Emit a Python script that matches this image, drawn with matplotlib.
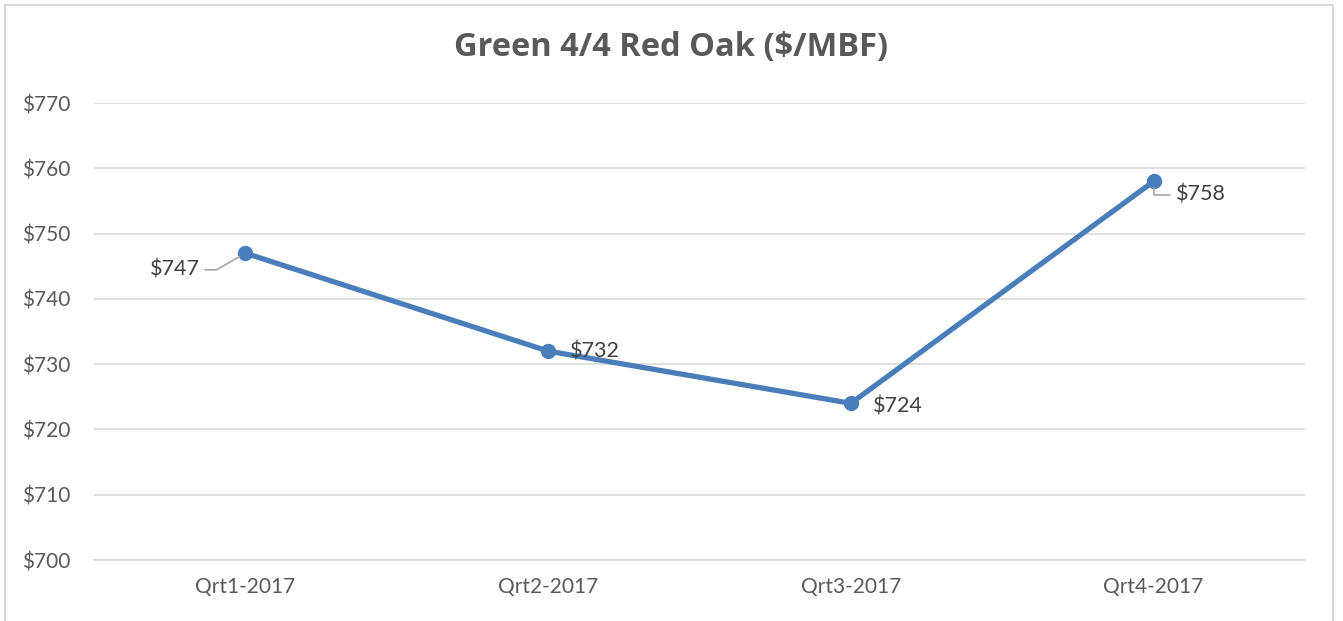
import matplotlib.pyplot as plt
from matplotlib.patches import Rectangle

# Chart data
quarters = ['Qrt1-2017', 'Qrt2-2017', 'Qrt3-2017', 'Qrt4-2017']
prices = [747, 732, 724, 758]
y_ticks = [700, 710, 720, 730, 740, 750, 760, 770]

plt.rcParams['font.family'] = ['Lato', 'DejaVu Sans']

fig = plt.figure(figsize=(13.43, 6.21), dpi=100)
ax = fig.add_axes([0.070, 0.0982, 0.9017, 0.7359])

# outer chart border
fig.patches.append(Rectangle((5 / 1343, -0.05), 1328 / 1343, 1.05 - 5 / 621,
                             transform=fig.transFigure, fill=False,
                             edgecolor='#d9d9d9', linewidth=1.5))

x = list(range(len(quarters)))
ax.plot(x, prices, color='#4a7ebb', linewidth=3.8, marker='o', markersize=10,
        zorder=3)

ax.set_xlim(-0.5, len(quarters) - 0.5)
ax.set_ylim(700, 770)
ax.set_yticks(y_ticks)
ax.set_yticklabels(['$%d' % v for v in y_ticks])
ax.set_xticks(x)
ax.set_xticklabels(quarters)
ax.grid(axis='y', color='#d9d9d9', linewidth=1.2)
ax.set_axisbelow(True)
for s in ['top', 'right', 'left']:
    ax.spines[s].set_visible(False)
ax.spines['bottom'].set_color('#d9d9d9')
ax.spines['bottom'].set_linewidth(1.2)
ax.tick_params(length=0, labelsize=15, labelcolor='#595959', pad=12)
ax.tick_params(axis='y', pad=17)

fig.suptitle('Green 4/4 Red Oak ($/MBF)', x=0.5, y=0.95, fontsize=23.5,
             fontweight='bold', color='#595959', family=['Open Sans', 'DejaVu Sans'])

# data labels
lbl = dict(fontsize=15.5, color='#404040', va='center')
leader = dict(arrowstyle='-', color='#a6a6a6', lw=1.2, shrinkA=2, shrinkB=5)
ax.annotate('$%d' % prices[0], xy=(x[0], prices[0]), xytext=(-33, -12),
            textcoords='offset points', ha='right',
            arrowprops=dict(leader, connectionstyle='angle,angleA=0,angleB=30,rad=0'),
            **lbl)
ax.annotate('$%d' % prices[1], xy=(x[1], prices[1]), xytext=(16, 0),
            textcoords='offset points', ha='left', **lbl)
ax.annotate('$%d' % prices[2], xy=(x[2], prices[2]), xytext=(16, -2),
            textcoords='offset points', ha='left', **lbl)
ax.annotate('$%d' % prices[3], xy=(x[3], prices[3]), xytext=(16, -9.5),
            textcoords='offset points', ha='left',
            arrowprops=dict(leader, connectionstyle='angle,angleA=0,angleB=90,rad=0'),
            **lbl)

fig.savefig('out.png', dpi=100)
